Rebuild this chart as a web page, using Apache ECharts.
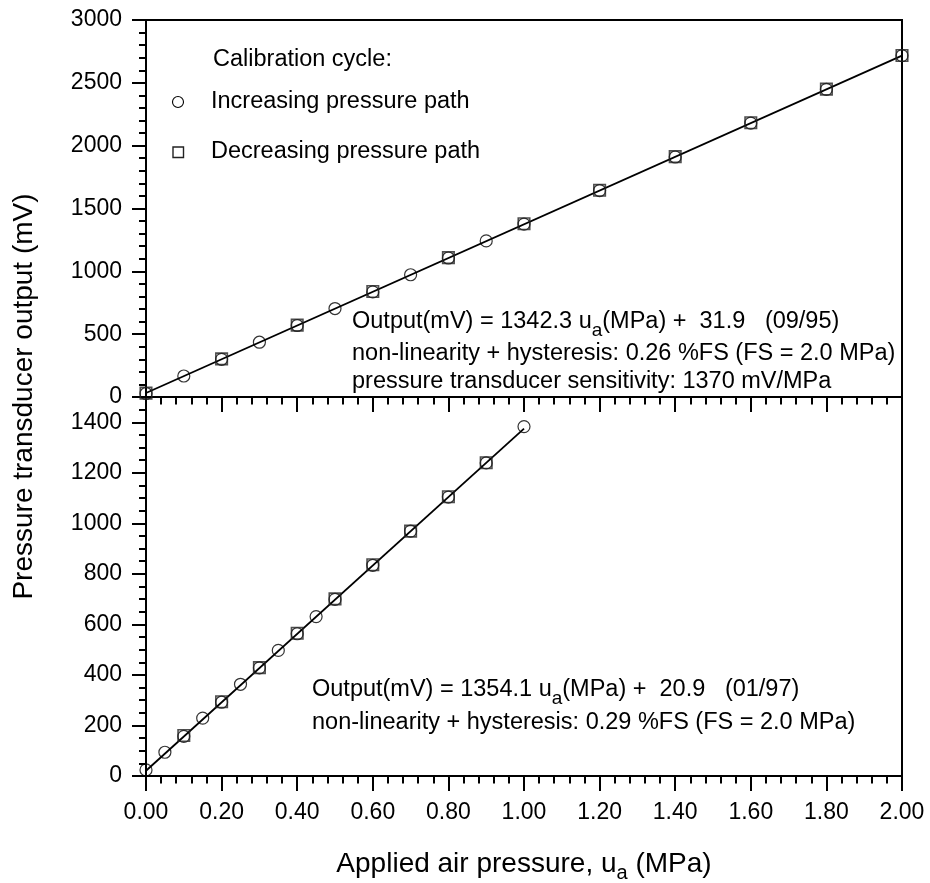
<!DOCTYPE html>
<html>
<head>
<meta charset="utf-8">
<script src="https://cdn.jsdelivr.net/npm/echarts@6/dist/echarts.min.js"></script>
<style>
html,body{margin:0;padding:0;background:#fff;}
#chart{width:930px;height:883px;}
</style>
</head>
<body>
<div id="chart"></div>
<script>
// ---- data ----
// Upper panel (09/95)
const topIncX = [0, 0.1, 0.2, 0.3, 0.4, 0.5, 0.6, 0.7, 0.8, 0.9, 1.0, 1.2, 1.4, 1.6, 1.8, 2.0];
const topIncY = [28, 167, 300, 436, 569, 704, 836, 973, 1106, 1242, 1376, 1643, 1910, 2179, 2448, 2717];
const topDecX = [0, 0.2, 0.4, 0.6, 0.8, 1.0, 1.2, 1.4, 1.6, 1.8, 2.0];
const topDecY = [31, 303, 572, 839, 1109, 1379, 1645, 1913, 2182, 2450, 2717];
const topFitX = [0, 2.0];
const topFitY = [31.9, 2716.5];
// Lower panel (01/97)
const botIncX = [0, 0.05, 0.1, 0.15, 0.2, 0.25, 0.3, 0.35, 0.4, 0.45, 0.5, 0.6, 0.7, 0.8, 0.9, 1.0];
const botIncY = [24, 94, 157, 229, 292, 363, 428, 497, 563, 631, 699, 834, 969, 1104, 1239, 1383];
const botDecX = [0.1, 0.2, 0.3, 0.4, 0.5, 0.6, 0.7, 0.8, 0.9];
const botDecY = [160, 294, 429, 565, 701, 836, 969, 1105, 1240];
const botFitX = [0, 1.0];
const botFitY = [20.9, 1375.0];

const legendTitle = 'Calibration cycle:';
const legendNames = ['Increasing pressure path', 'Decreasing pressure path'];

// ---- chart ----
const FONT = '"Liberation Sans", Arial, Helvetica, sans-serif';
const pair = (xs, ys) => xs.map((x, i) => [x, ys[i]]);

const mctx = document.createElement('canvas').getContext('2d');
function textWidth(t, size) { mctx.font = size + 'px ' + FONT; return mctx.measureText(t).width; }

const chart = echarts.init(document.getElementById('chart'), null, {renderer: 'canvas'});

function xAxisCfg(gridIndex, showLabel) {
  return {
    type: 'value', gridIndex: gridIndex, min: 0, max: 2, interval: 0.2,
    axisLine: {show: true, onZero: false, lineStyle: {color: '#000', width: 2}},
    axisTick: {show: true, inside: false, length: 15, lineStyle: {color: '#000', width: 2}},
    minorTick: {show: true, splitNumber: 5, length: 7.5, lineStyle: {color: '#000', width: 2}},
    splitLine: {show: false}, minorSplitLine: {show: false},
    axisLabel: {show: showLabel, margin: 25, fontSize: 23, fontFamily: FONT, color: '#000',
      formatter: v => v.toFixed(2)}
  };
}

const ANN = 23.5;
function plainText(x, y, text, size) {
  return {type: 'text', x: x, y: y, z: 100,
    style: {text: text, fontSize: size || ANN, fontFamily: FONT, fill: '#000', align: 'left', verticalAlign: 'middle'}};
}
// text with a subscript: parts = [main, sub, main]
function subText(x, y, a, s, b, size, subSize, dy) {
  const wa = textWidth(a, size);
  const ws = textWidth(s, subSize);
  return [
    plainText(x, y, a, size),
    plainText(x + wa, y + dy, s, subSize),
    plainText(x + wa + ws, y, b, size)
  ];
}

const xTitleA = 'Applied air pressure, u', xTitleS = 'a', xTitleB = ' (MPa)';
const xTitleW = textWidth(xTitleA, 28) + textWidth(xTitleS, 20) + textWidth(xTitleB, 28);

const option = {
  backgroundColor: '#fff',
  animation: false,
  grid: [
    {left: 146, top: 20, width: 756, height: 377, show: true, borderColor: '#000', borderWidth: 2, backgroundColor: 'transparent'},
    {left: 146, top: 397, width: 756, height: 379, show: true, borderColor: '#000', borderWidth: 2, backgroundColor: 'transparent'}
  ],
  xAxis: [xAxisCfg(0, false), xAxisCfg(1, true)],
  yAxis: [
    {
      type: 'value', gridIndex: 0, min: 0, max: 3000, interval: 500,
      axisLine: {show: true, onZero: false, lineStyle: {color: '#000', width: 2}},
      axisTick: {show: true, inside: false, length: 14, lineStyle: {color: '#000', width: 2}},
      minorTick: {show: true, splitNumber: 5, length: 7, lineStyle: {color: '#000', width: 2}},
      splitLine: {show: false},
      axisLabel: {margin: 24, fontSize: 23, fontFamily: FONT, color: '#000', formatter: v => String(v)}
    },
    {
      type: 'value', gridIndex: 1, min: 0, max: 1500, interval: 200, position: 'left',
      axisLine: {show: true, onZero: false, lineStyle: {color: '#000', width: 2}},
      axisTick: {show: true, inside: false, length: 14, lineStyle: {color: '#000', width: 2}},
      minorTick: {show: false},
      splitLine: {show: false},
      axisLabel: {margin: 24, fontSize: 23, fontFamily: FONT, color: '#000', showMaxLabel: false,
        formatter: v => (v % 200 === 0 ? String(v) : '')}
    },
    {
      type: 'value', gridIndex: 1, min: 0, max: 1500, interval: 50, position: 'left',
      axisLine: {show: false},
      axisTick: {show: true, inside: false, length: 7, lineStyle: {color: '#000', width: 2}},
      splitLine: {show: false},
      axisLabel: {show: false}
    }
  ],
  series: [
    {type: 'line', xAxisIndex: 0, yAxisIndex: 0, data: pair(topFitX, topFitY), showSymbol: false,
      lineStyle: {color: '#000', width: 1.8}, z: 2},
    {type: 'scatter', name: legendNames[0], xAxisIndex: 0, yAxisIndex: 0, data: pair(topIncX, topIncY),
      symbol: 'circle', symbolSize: 12,
      itemStyle: {color: 'transparent', borderColor: '#000', borderWidth: 1.2}, z: 3},
    {type: 'scatter', name: legendNames[1], xAxisIndex: 0, yAxisIndex: 0, data: pair(topDecX, topDecY),
      symbol: 'rect', symbolSize: 11.5,
      itemStyle: {color: 'transparent', borderColor: '#222', borderWidth: 1.6}, z: 3},
    {type: 'line', xAxisIndex: 1, yAxisIndex: 1, data: pair(botFitX, botFitY), showSymbol: false,
      lineStyle: {color: '#000', width: 1.8}, z: 2},
    {type: 'scatter', xAxisIndex: 1, yAxisIndex: 1, data: pair(botIncX, botIncY),
      symbol: 'circle', symbolSize: 12,
      itemStyle: {color: 'transparent', borderColor: '#000', borderWidth: 1.2}, z: 3},
    {type: 'scatter', xAxisIndex: 1, yAxisIndex: 1, data: pair(botDecX, botDecY),
      symbol: 'rect', symbolSize: 11.5,
      itemStyle: {color: 'transparent', borderColor: '#222', borderWidth: 1.6}, z: 3}
  ],
  graphic: {elements: [].concat(
    [
      plainText(213, 60, legendTitle),
      {type: 'circle', shape: {cx: 178, cy: 102, r: 5.5}, style: {fill: 'none', stroke: '#000', lineWidth: 1.1}, z: 100},
      plainText(211, 102, legendNames[0]),
      {type: 'rect', shape: {x: 173, y: 147, width: 10.5, height: 10.5}, style: {fill: 'none', stroke: '#222', lineWidth: 1.4}, z: 100},
      plainText(211, 152, legendNames[1]),
      plainText(352, 354, 'non-linearity + hysteresis: 0.26 %FS (FS = 2.0 MPa)'),
      plainText(352, 382, 'pressure transducer sensitivity: 1370 mV/MPa'),
      plainText(312, 723, 'non-linearity + hysteresis: 0.29 %FS (FS = 2.0 MPa)'),
      {type: 'text', x: 24, y: 396.5, rotation: Math.PI / 2, z: 100,
        style: {text: 'Pressure transducer output (mV)', fontSize: 28, fontFamily: FONT, fill: '#000',
          align: 'center', verticalAlign: 'middle'}}
    ],
    subText(352, 322, 'Output(mV) = 1342.3 u', 'a', '(MPa) +  31.9   (09/95)', ANN, 19, 8.5),
    subText(312, 690, 'Output(mV) = 1354.1 u', 'a', '(MPa) +  20.9   (01/97)', ANN, 19, 8.5),
    subText(524 - xTitleW / 2, 864, xTitleA, xTitleS, xTitleB, 28, 20, 9)
  )}
};
chart.setOption(option);
</script>
</body>
</html>
